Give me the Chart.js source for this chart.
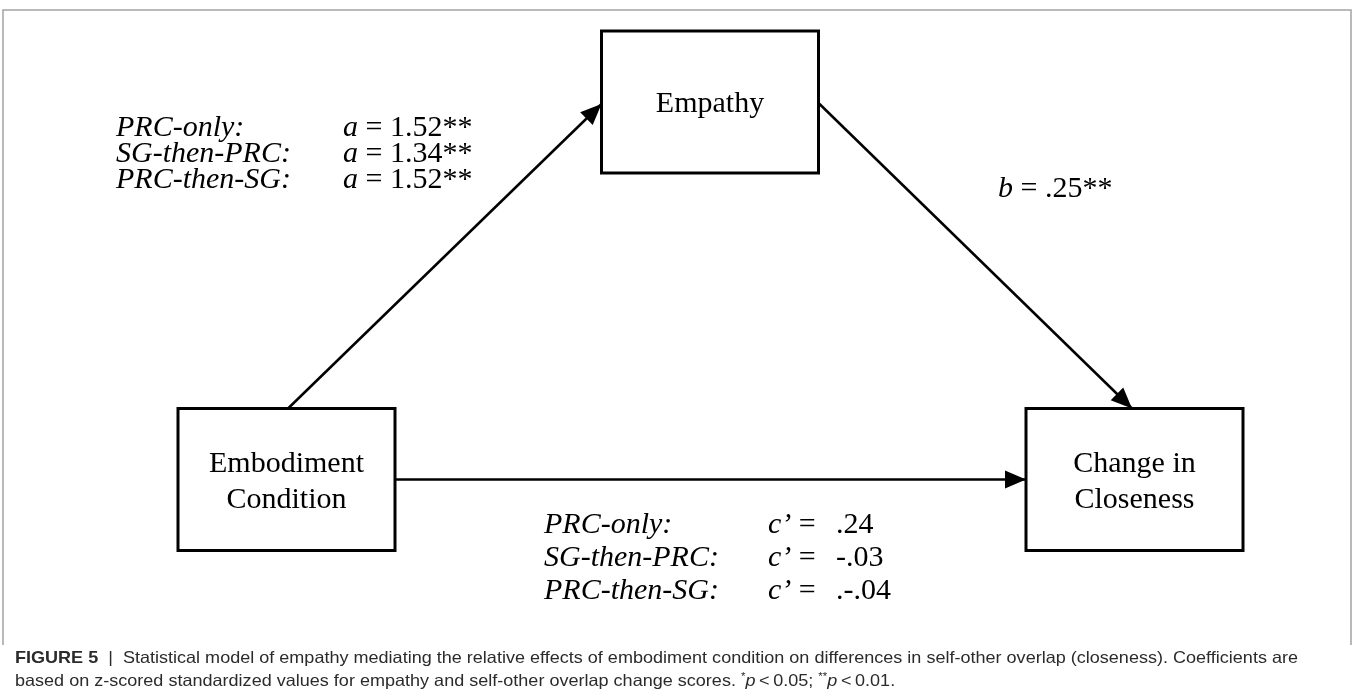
<!DOCTYPE html>
<html>
<head>
<meta charset="utf-8">
<script src="https://cdn.jsdelivr.net/npm/chart.js@4.4.1/dist/chart.umd.min.js"></script>
<style>
  html, body { margin: 0; padding: 0; background: #fff; }
  #wrap { width: 1354px; height: 697px; position: relative; }
</style>
</head>
<body>
<div id="wrap"><canvas id="myChart"></canvas></div>
<script>
// model content
const nodeNames = ['Embodiment\nCondition', 'Empathy', 'Change in\nCloseness'];
const conditions = ['PRC-only:', 'SG-then-PRC:', 'PRC-then-SG:'];
const aPath = ['1.52**', '1.34**', '1.52**'];
const bPath = '.25**';
const cPath = ['.24', '-.03', '.-.04'];

// diagram layout (page pixels)
const layout = {
    nodeX: [286.5, 710, 1134.5],
    nodeY: [479.5, 102, 479.5],
    boxW: 217,
    boxH: 142
};

const half = { w: layout.boxW / 2, h: layout.boxH / 2 };
const edges = [
    // a path: top of Embodiment -> left of Empathy
    [{ x: 288, y: layout.nodeY[0] - half.h }, { x: layout.nodeX[1] - half.w, y: 104 }],
    // b path: right of Empathy -> top of Change
    [{ x: layout.nodeX[1] + half.w, y: 103 }, { x: 1132, y: layout.nodeY[2] - half.h }],
    // c' path
    [{ x: layout.nodeX[0] + half.w, y: layout.nodeY[0] }, { x: layout.nodeX[2] - half.w, y: layout.nodeY[2] }]
];

const SERIF = '"Liberation Serif", "Times New Roman", serif';
const SANS = '"Liberation Sans", Arial, sans-serif';

function drawRuns(ctx, runs, x, y, sx) {
    ctx.save();
    ctx.translate(x, y);
    ctx.scale(sx || 1, 1);
    let cx = 0;
    runs.forEach(function (r) {
        ctx.font = r.font;
        ctx.fillText(r.t, cx, r.dy || 0);
        cx += ctx.measureText(r.t).width;
    });
    ctx.restore();
}

function runsWidth(ctx, runs) {
    let w = 0;
    runs.forEach(function (r) { ctx.font = r.font; w += ctx.measureText(r.t).width; });
    return w;
}

const diagramPlugin = {
    id: 'diagram',
    beforeDatasetsDraw(chart) {
        const ctx = chart.ctx;
        const sx = chart.scales.x, sy = chart.scales.y;
        ctx.save();
        // outer frame
        ctx.strokeStyle = '#a3a3a3';
        ctx.lineWidth = 1.5;
        ctx.beginPath();
        ctx.moveTo(sx.getPixelForValue(3), sy.getPixelForValue(645));
        ctx.lineTo(sx.getPixelForValue(3), sy.getPixelForValue(10));
        ctx.lineTo(sx.getPixelForValue(1351), sy.getPixelForValue(10));
        ctx.lineTo(sx.getPixelForValue(1351), sy.getPixelForValue(645));
        ctx.stroke();

        // boxes with labels
        ctx.strokeStyle = '#000';
        ctx.lineWidth = 3;
        ctx.fillStyle = '#000';
        ctx.textAlign = 'center';
        ctx.textBaseline = 'alphabetic';
        ctx.font = '30px ' + SERIF;
        nodeNames.forEach(function (name, i) {
            const l = sx.getPixelForValue(layout.nodeX[i] - half.w);
            const t = sy.getPixelForValue(layout.nodeY[i] - half.h);
            ctx.strokeRect(l, t, layout.boxW, layout.boxH);
            const lines = name.split('\n');
            const lh = 36;
            const cy = sy.getPixelForValue(layout.nodeY[i]);
            lines.forEach(function (ln, k) {
                const base = cy + 10 + (k - (lines.length - 1) / 2) * lh;
                ctx.fillText(ln, sx.getPixelForValue(layout.nodeX[i]), base);
            });
        });
        ctx.restore();
    },
    afterDatasetsDraw(chart) {
        const ctx = chart.ctx;
        const sx = chart.scales.x, sy = chart.scales.y;
        ctx.save();
        // arrowheads at the end of each path
        ctx.fillStyle = '#000';
        chart.data.datasets.forEach(function (ds, i) {
            const pts = chart.getDatasetMeta(i).data;
            const p0 = pts[0], p1 = pts[pts.length - 1];
            const ang = Math.atan2(p1.y - p0.y, p1.x - p0.x);
            const len = 21, wid = 9;
            ctx.save();
            ctx.translate(p1.x, p1.y);
            ctx.rotate(ang);
            ctx.beginPath();
            ctx.moveTo(0, 0);
            ctx.lineTo(-len, -wid);
            ctx.lineTo(-len, wid);
            ctx.closePath();
            ctx.fill();
            ctx.restore();
        });

        // path coefficients
        ctx.textAlign = 'left';
        ctx.textBaseline = 'alphabetic';
        const it = 'italic 30px ' + SERIF, rg = '30px ' + SERIF;
        conditions.forEach(function (c, i) {
            const y = sy.getPixelForValue(136 + i * 26);
            drawRuns(ctx, [{ t: c, font: it }], sx.getPixelForValue(116), y);
            drawRuns(ctx, [{ t: 'a', font: it }, { t: ' = ' + aPath[i], font: rg }], sx.getPixelForValue(343), y);
        });
        drawRuns(ctx, [{ t: 'b', font: it }, { t: ' = ' + bPath, font: rg }], sx.getPixelForValue(998), sy.getPixelForValue(197));
        conditions.forEach(function (c, i) {
            const y = sy.getPixelForValue(533 + i * 33);
            drawRuns(ctx, [{ t: c, font: it }], sx.getPixelForValue(544), y);
            drawRuns(ctx, [{ t: 'c\u2019', font: it }, { t: ' =', font: rg }], sx.getPixelForValue(768), y);
            drawRuns(ctx, [{ t: cPath[i], font: rg }], sx.getPixelForValue(836), y);
        });

        // caption
        ctx.fillStyle = '#2b2b2b';
        const cs = '16.5px ' + SANS, cb = 'bold 16.5px ' + SANS, ci = 'italic 16.5px ' + SANS, sup = '10.5px ' + SANS;
        const line1 = [
            { t: 'FIGURE 5', font: cb },
            { t: '  |  ', font: cs },
            { t: 'Statistical model of empathy mediating the relative effects of embodiment condition on differences in self-other overlap (closeness). Coefficients are', font: cs }
        ];
        const line2 = [
            { t: 'based on z-scored standardized values for empathy and self-other overlap change scores. ', font: cs },
            { t: '*', font: sup, dy: -6 },
            { t: 'p', font: ci },
            { t: '\u2009<\u20090.05; ', font: cs },
            { t: '**', font: sup, dy: -6 },
            { t: 'p', font: ci },
            { t: '\u2009<\u20090.01.', font: cs }
        ];
        const fit = (1298 - 15) / runsWidth(ctx, line1);
        drawRuns(ctx, line1, sx.getPixelForValue(15), sy.getPixelForValue(663), fit);
        drawRuns(ctx, line2, sx.getPixelForValue(15), sy.getPixelForValue(686), fit);
        ctx.restore();
    }
};

const datasets = edges.map(function (e) {
    return {
        data: e,
        showLine: true,
        borderColor: '#000',
        borderWidth: 2.5,
        pointRadius: 0,
        fill: false
    };
});

const myChart = new Chart(document.getElementById('myChart'), {
    type: 'scatter',
    data: { datasets: datasets },
    options: {
        responsive: true,
        maintainAspectRatio: false,
        animation: false,
        layout: { padding: 0 },
        plugins: { legend: { display: false }, tooltip: { enabled: false } },
        scales: {
            x: { type: 'linear', min: 0, max: 1354, display: false },
            y: { type: 'linear', min: 0, max: 697, reverse: true, display: false }
        }
    },
    plugins: [diagramPlugin]
});
</script>
</body>
</html>
